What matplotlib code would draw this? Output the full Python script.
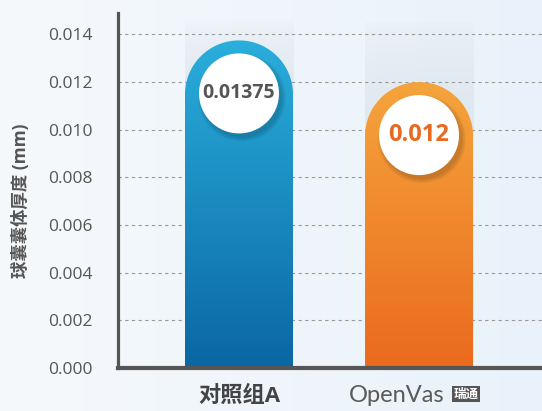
import numpy as np
import matplotlib
matplotlib.use('Agg')
import matplotlib.pyplot as plt
from matplotlib.path import Path
from matplotlib.patches import PathPatch, Ellipse
from matplotlib.colors import LinearSegmentedColormap, to_rgba

plt.rcParams['font.family'] = ['Open Sans', 'Noto Sans CJK SC', 'DejaVu Sans']

categories = ['对照组A', 'OpenVas']
values = [0.01375, 0.012]
value_labels = ['0.01375', '0.012']
yticks = [0.000, 0.002, 0.004, 0.006, 0.008, 0.010, 0.012, 0.014]
ylabel = '球囊囊体厚度 (mm)'

top_colors = ['#2aaedb', '#f5a43c']
bottom_colors = ['#0a67a3', '#eb6a1e']
label_colors = ['#555555', '#e8691f']

W, H = 542, 411
fig = plt.figure(figsize=(W / 100, H / 100), dpi=100)

# background gradient
bg = fig.add_axes([0, 0, 1, 1])
bg.axis('off')
grad = np.linspace(0, 1, 256).reshape(1, -1)
bg_cmap = LinearSegmentedColormap.from_list('bg', ['#f6f9fc', '#e9f2fa'])
bg.imshow(grad, aspect='auto', cmap=bg_cmap, extent=[0, 1, 0, 1])
bg.set_xlim(0, 1)
bg.set_ylim(0, 1)

ax_l, ax_b = 118 / W, 1 - 368 / H
ax_w, ax_h = 1 - ax_l, (368 - 13) / H
ax = fig.add_axes([ax_l, ax_b, ax_w, ax_h])
ax.patch.set_alpha(0)

ymax = 0.0149
xlim = (-0.672, 1.683)
ax.set_xlim(*xlim)
ax.set_ylim(0, ymax)

px_per_x = ax_w * W / (xlim[1] - xlim[0])
px_per_y = ax_h * H / ymax

bar_w = 0.6
rx = bar_w / 2
ry = rx * px_per_x / px_per_y
xs = np.arange(len(values))

for i, (x, v) in enumerate(zip(xs, values)):
    # light track behind the bar
    track = np.linspace(0, 1, 128).reshape(-1, 1)
    tc = np.zeros((128, 1, 4))
    tc[..., :3] = to_rgba('#d5dde4')[:3]
    tc[..., 3] = 0.55 * (1 - track[::-1]) ** 0.6
    ax.imshow(tc, aspect='auto', origin='upper', zorder=0.5,
              extent=[x - rx, x + rx, v - ry, ymax - 0.0003])

    # rounded bar
    t = np.linspace(0, np.pi, 60)
    cy = v - ry
    verts = [(x - rx, 0), (x + rx, 0), (x + rx, cy)]
    verts += list(zip(x + rx * np.cos(t), cy + ry * np.sin(t)))
    verts += [(x - rx, 0)]
    codes = [Path.MOVETO] + [Path.LINETO] * (len(verts) - 2) + [Path.CLOSEPOLY]
    patch = PathPatch(Path(verts, codes), facecolor='none', edgecolor='none')
    ax.add_patch(patch)
    cmap = LinearSegmentedColormap.from_list('b%d' % i, [bottom_colors[i], top_colors[i]])
    img = ax.imshow(np.linspace(0, 1, 256).reshape(-1, 1), aspect='auto', cmap=cmap,
                    origin='lower', extent=[x - rx, x + rx, 0, v], zorder=2)
    img.set_clip_path(patch)

    # white circle with soft shadow
    crx = 40 / px_per_x
    cry = 40 / px_per_y
    ccy = v - ry + 1 / px_per_y
    for k in range(5):
        grow = 1 + 0.025 * k
        ax.add_patch(Ellipse((x + 3 / px_per_x, ccy - 4 / px_per_y), 2 * crx * grow, 2 * cry * grow,
                             facecolor='#000000', alpha=0.035, edgecolor='none', zorder=3))
    ax.add_patch(Ellipse((x, ccy), 2 * crx, 2 * cry, facecolor='white', edgecolor='none', zorder=4))
    ax.text(x, ccy, value_labels[i], ha='center', va='center', fontsize=14 if i == 0 else 17,
            fontweight='bold', color=label_colors[i], zorder=5)

ax.set_yticks(yticks)
ax.set_yticklabels(['%.3f' % y for y in yticks])
ax.yaxis.grid(True, linestyle=(0, (3, 3)), color='#9a9a9a', linewidth=0.8)
ax.set_axisbelow(True)
ax.tick_params(axis='y', length=0, pad=18, labelsize=12.5, labelcolor='#555555')
ax.set_xticks([])

for s in ['top', 'right']:
    ax.spines[s].set_visible(False)
ax.spines['left'].set_linewidth(2.3)
ax.spines['left'].set_color('#555555')
ax.spines['bottom'].set_linewidth(3)
ax.spines['bottom'].set_color('#555555')

fig.text(21 / W, 1 - 201 / H, ylabel, rotation=90, ha='center', va='center',
         fontsize=12.5, fontweight='bold', color='#555555')

# category labels
fig.text(239 / W, 1 - 396 / H, categories[0], ha='center', va='center',
         fontsize=16, fontweight='bold', color='#444444')
fig.text(397 / W, 1 - 395 / H, categories[1], ha='center', va='center',
         fontsize=17, color='#5a5a5a', family=['Lato', 'DejaVu Sans'])
fig.text(466 / W, 1 - 394 / H, '瑞通', ha='center', va='center', fontsize=9,
         fontweight='bold', color='white',
         bbox=dict(boxstyle='square,pad=0.12', facecolor='#555555', edgecolor='none'))

fig.savefig('out.png', dpi=100)
